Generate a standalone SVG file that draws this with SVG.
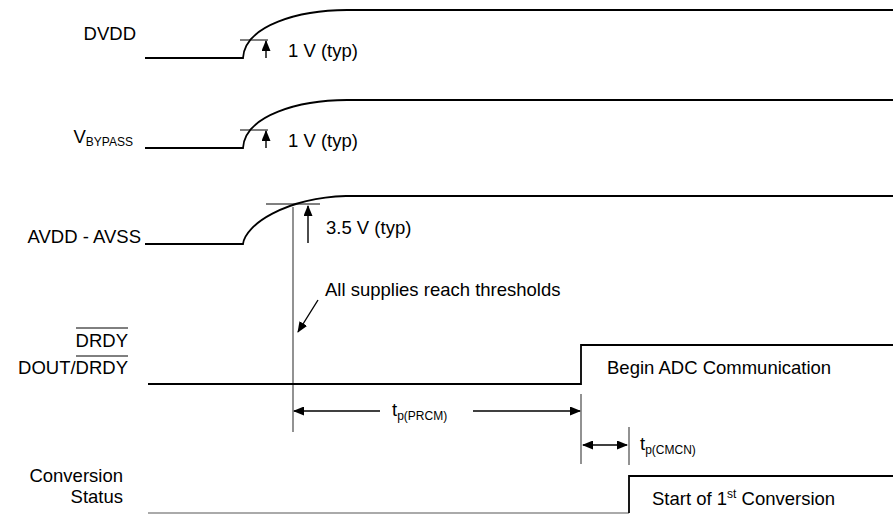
<svg xmlns="http://www.w3.org/2000/svg" width="893" height="514" viewBox="0 0 893 514">
<style>
text{font-family:"Liberation Sans",Arial,sans-serif;font-size:18.5px;fill:#000}
.lbl{text-anchor:end}
.sub{font-size:12px}
.sig{fill:none;stroke:#000;stroke-width:1.8}
.thr{stroke:#000;stroke-width:1}
.g{stroke:#777;stroke-width:1.6;fill:none}
.arr{stroke:#000;stroke-width:1.4;fill:none}
</style>
<defs>
<marker id="ah" markerWidth="11" markerHeight="9" refX="10" refY="4.5" orient="auto" markerUnits="userSpaceOnUse">
<path d="M0,0 L11,4.5 L0,9 Z" fill="#000"/>
</marker>
<marker id="ahs" markerWidth="11" markerHeight="9" refX="1" refY="4.5" orient="auto" markerUnits="userSpaceOnUse">
<path d="M11,0 L0,4.5 L11,9 Z" fill="#000"/>
</marker>
</defs>
<g id="dvdd">
<text class="lbl" x="136" y="40">DVDD</text>
<path class="sig" d="M145,58 H243 C245,25 300,10 347,10 H893"/>
<line class="thr" x1="240" y1="40" x2="268" y2="40"/>
<line class="arr" x1="266" y1="58" x2="266" y2="41" marker-end="url(#ah)"/>
<text x="288" y="57">1 V (typ)</text>
</g>
<g id="vbypass">
<text class="lbl" x="133" y="143">V<tspan class="sub" dy="3">BYPASS</tspan></text>
<path class="sig" d="M145,148 H243 C245,115 300,100 347,100 H893"/>
<line class="thr" x1="240" y1="130" x2="268" y2="130"/>
<line class="arr" x1="266" y1="148" x2="266" y2="131" marker-end="url(#ah)"/>
<text x="288" y="147">1 V (typ)</text>
</g>
<g id="avdd">
<text class="lbl" x="141" y="243">AVDD - AVSS</text>
<path class="sig" d="M145,244 H243 C245,225 285,198 346,196 H893"/>
<line class="thr" x1="266" y1="204" x2="320" y2="204"/>
<line class="arr" x1="308" y1="243" x2="308" y2="206" marker-end="url(#ah)"/>
<text x="326" y="234">3.5 V (typ)</text>
</g>
<g id="threshold">
<line class="g" x1="293" y1="207" x2="293" y2="432"/>
<text x="325" y="296">All supplies reach thresholds</text>
</g>
<g id="drdy">
<text class="lbl" x="128" y="347">DRDY</text>
<line x1="76" y1="328" x2="128" y2="328" stroke="#000" stroke-width="1"/>
<text class="lbl" x="128" y="374">DOUT/DRDY</text>
<line x1="76" y1="356" x2="128" y2="356" stroke="#000" stroke-width="1"/>
<path class="sig" d="M148,384 H581 V345 H893"/>
<text x="607" y="374">Begin ADC Communication</text>
</g>
<g id="conversion">
<text class="lbl" x="123" y="482">Conversion</text>
<text class="lbl" x="123" y="503">Status</text>
<line x1="148" y1="513" x2="629" y2="513" stroke="#aaa" stroke-width="2"/>
<path class="sig" d="M629,513 V476 H893"/>
<text x="652" y="505">Start of 1<tspan class="sub" dy="-7">st</tspan><tspan dy="7"> Conversion</tspan></text>
</g>
<g id="connectors">
<line class="g" x1="581" y1="394" x2="581" y2="464"/>
<line class="g" x1="629" y1="427" x2="629" y2="465"/>
<line class="arr" x1="318" y1="300" x2="298" y2="332" marker-end="url(#ah)"/>
<line class="arr" x1="380" y1="411" x2="294" y2="411" marker-end="url(#ah)"/>
<line class="arr" x1="473" y1="411" x2="580" y2="411" marker-end="url(#ah)"/>
<line class="arr" x1="583" y1="445" x2="627" y2="445" marker-start="url(#ahs)" marker-end="url(#ah)"/>
</g>
<g id="timing-labels">
<text x="392" y="416">t<tspan class="sub" dy="4">p(PRCM)</tspan></text>
<text x="640" y="450">t<tspan class="sub" dy="4">p(CMCN)</tspan></text>
</g>
</svg>
